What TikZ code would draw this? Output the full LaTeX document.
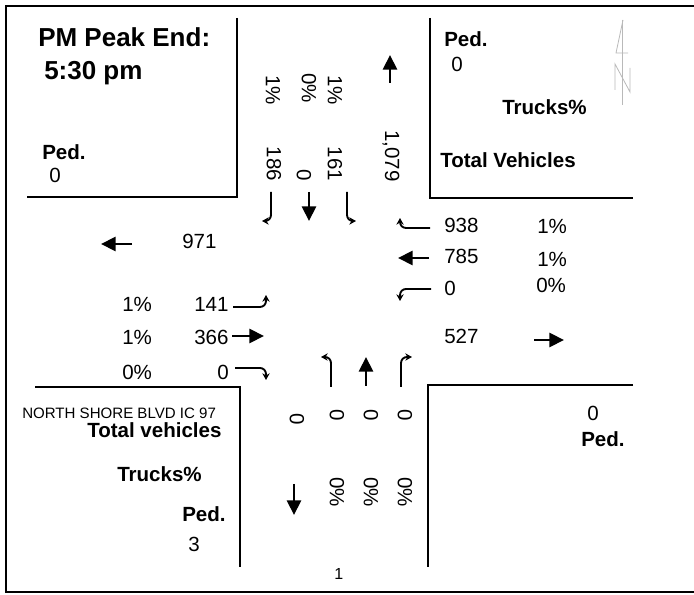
\documentclass[tikz,border=0pt]{standalone}
\usepackage{fontspec}
\setmainfont{Liberation Sans}
\usetikzlibrary{arrows.meta}

\begin{document}
\begin{tikzpicture}[
    x=0.75pt, y=-0.75pt,
    lbl/.style={anchor=base west, inner sep=0pt, font=\fontsize{15.4}{18}\selectfont},
    head/.style={lbl, font=\fontsize{15.4}{18}\selectfont\bfseries},
    title/.style={lbl, font=\fontsize{19.5}{23}\selectfont\bfseries},
    vlbl/.style={inner sep=0pt, rotate=-90, font=\fontsize{15.4}{18}\selectfont},
    curb/.style={line width=1.5pt},
    thru/.style={-{Triangle[length=11pt, width=10.5pt]}, line width=2.2pt},
    turn/.style={-{Stealth[length=5pt, width=5.5pt]}, line width=1.4pt, rounded corners=4.5pt}
]
    \useasboundingbox (0,0) rectangle (694,595);
    % frame
    \draw[line width=1.5pt] (694,6) -- (6,6) -- (6,592) -- (694,592);
    % street corners
    \draw[curb] (237,18) -- (237,197) -- (27,197);
    \draw[curb] (430,18) -- (430,198) -- (633,198);
    \draw[curb] (35,387) -- (240,387) -- (240,567);
    \draw[curb] (633,385) -- (428,385) -- (428,567);

    % north-west corner
    \node[title] (ttl) at (38,47) {PM Peak End:};
    \node[title] (tend) at (44,80) {5:30 pm};
    \node[head] (pedNW) at (42,160) {Ped.};
    \node[lbl] (pedNWv) at (49,183) {0};

    % north-east corner
    \node[head] (pedNE) at (444,47) {Ped.};
    \node[lbl] (pedNEv) at (451,72) {0};
    \node[head] (trkNE) at (502,115) {Trucks\%};
    \node[head] (totNE) at (440,168) {Total Vehicles};
    \draw[gray!55, line width=0.6pt] (622,20) -- (622,105);
    \draw[gray!55, line width=0.6pt] (623,20) -- (616,53) -- (628,53);
    \draw[gray!55, line width=0.6pt] (615,90) -- (615,64) -- (630,92) -- (630,68);

    % north approach
    \node[vlbl] (sbRp) at (273,90) {1\%};
    \node[vlbl] (sbTp) at (309,88) {0\%};
    \node[vlbl] (sbLp) at (335,90) {1\%};
    \node[vlbl] (sbR) at (274,164) {186};
    \node[vlbl] (sbT) at (304,175) {0};
    \node[vlbl] (sbL) at (335,164) {161};
    \node[vlbl] (nbOut) at (391,156) {1,079};
    \draw[thru] (390,83) -- (390,55);
    \draw[turn] (271,192) -- (271,221) -- (262,221);
    \draw[thru] (309,192) -- (309,221);
    \draw[turn] (347,192) -- (347,221) -- (356,221);

    % west approach
    \draw[thru] (132,244) -- (101,244);
    \node[lbl] (wbOut) at (182,249) {971};
    \node[lbl] (ebLp) at (122,312) {1\%};
    \node[lbl] (ebL) at (194,312) {141};
    \draw[turn] (233,307) -- (266,307) -- (266,295);
    \node[lbl] (ebTp) at (122,345) {1\%};
    \node[lbl] (ebT) at (194,345) {366};
    \draw[thru] (232,336) -- (264,336);
    \node[lbl] (ebRp) at (122,380) {0\%};
    \node[lbl] (ebR) at (217,380) {0};
    \draw[turn] (235,368) -- (266,368) -- (266,380);

    % east approach
    \draw[turn] (430,228) -- (400,228) -- (400,218);
    \node[lbl] (wbR) at (444,233) {938};
    \node[lbl] (wbRp) at (537,234) {1\%};
    \draw[thru] (429,258) -- (398,258);
    \node[lbl] (wbT) at (444,264) {785};
    \node[lbl] (wbTp) at (537,267) {1\%};
    \draw[turn] (431,289) -- (400,289) -- (400,301);
    \node[lbl] (wbL) at (444,296) {0};
    \node[lbl] (wbLp) at (536,293) {0\%};
    \node[lbl] (ebOut) at (444,344) {527};
    \draw[thru] (534,340) -- (564,340);

    % south approach
    \draw[turn] (331,387) -- (331,357) -- (321,357);
    \draw[thru] (366,386) -- (366,357);
    \draw[turn] (401,387) -- (401,357) -- (412,357);
    \node[vlbl] (sbOut) at (297,419) {0};
    \node[vlbl] (nbL) at (337,415) {0};
    \node[vlbl] (nbT) at (371,415) {0};
    \node[vlbl] (nbR) at (405,415) {0};
    \draw[thru] (294,484) -- (294,515);
    \node[vlbl] (nbLp) at (337,492) {0\%};
    \node[vlbl] (nbTp) at (371,492) {0\%};
    \node[vlbl] (nbRp) at (405,492) {0\%};
    \node[lbl, font=\fontsize{12}{14}\selectfont] (pg) at (334,580) {1};

    % south-west corner
    \node[lbl, font=\fontsize{11.3}{13}\selectfont] (street) at (22,419) {NORTH SHORE BLVD IC 97};
    \node[head] (totSW) at (87,438) {Total vehicles};
    \node[head] (trkSW) at (117,482) {Trucks\%};
    \node[head] (pedSW) at (182,522) {Ped.};
    \node[lbl] (pedSWv) at (188,552) {3};

    % south-east corner
    \node[lbl] (pedSEv) at (587,421) {0};
    \node[head] (pedSE) at (581,447) {Ped.};
\end{tikzpicture}
\end{document}
